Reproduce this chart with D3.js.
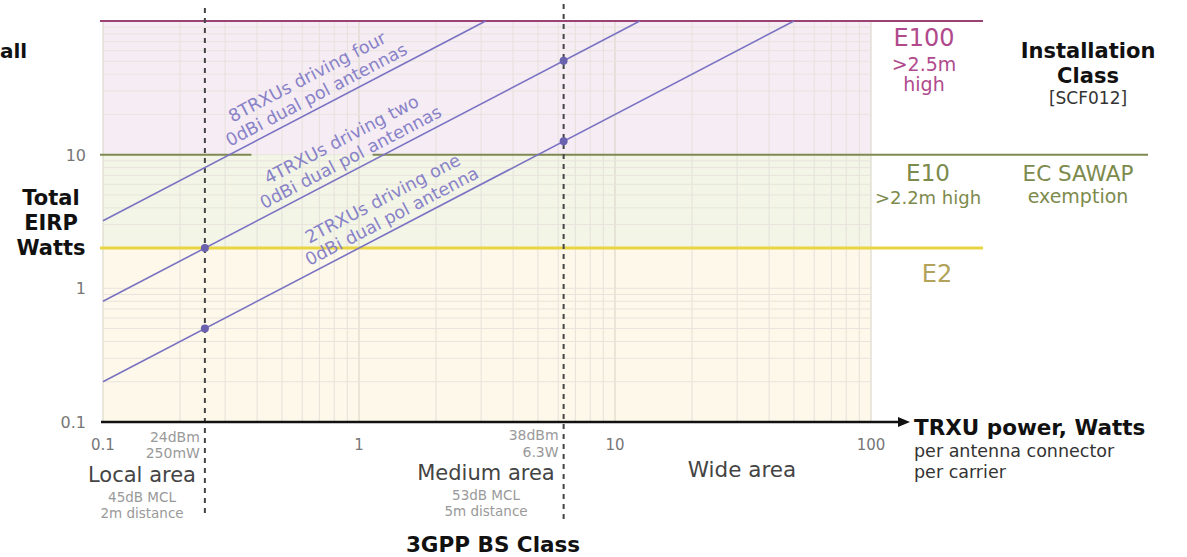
<!DOCTYPE html>
<html>
<head>
<meta charset="utf-8">
<script src="https://cdn.jsdelivr.net/npm/d3@7"></script>
<style>
  body { margin: 0; background: #fff; }
  svg text { font-family: "DejaVu Sans", Verdana, sans-serif; }
</style>
</head>
<body>
<div id="chart"></div>
<script>
// data
var xTickValues = [0.1, 1, 10, 100];
var yTickValues = [0.1, 1, 10];
var classNames = ["E100", "E10", "E2"];
var classLimits = [100, 10, 2];          // Total EIRP, Watts
var eirpFactors = [32, 8, 2];            // EIRP = factor * TRXU power
var lineLabels = [
  ["8TRXUs driving four", "0dBi dual pol antennas"],
  ["4TRXUs driving two", "0dBi dual pol antennas"],
  ["2TRXUs driving one", "0dBi dual pol antenna"]
];
var labelPower = [0.72, 0.98, 1.42];     // where each label sits along its line
var bsPower = [0.25, 6.3];               // 24dBm and 38dBm
var dotFactors = [8, 2];
var e10Gap = [0.38, 1.13];               // the E10 line is broken behind the labels

var width = 1187, height = 557;

var svg = d3.select("#chart").append("svg")
  .attr("width", width)
  .attr("height", height);

// log scales, one decade is ~256px across and ~133px up
var xScale = d3.scaleLog().domain([0.1, 100]).range([103, 871]);
var yScale = d3.scaleLog().domain([0.1, 100]).range([422, 21]);

// coloured bands behind the grid
var bandColors = ["#f6ecf4", "#f3f5e7", "#fdf8e9"];
var bandEdges = classLimits.concat([0.1]);
classNames.forEach(function(name, i) {
  svg.append("rect")
    .attr("x", xScale(0.1))
    .attr("y", yScale(bandEdges[i]))
    .attr("width", xScale(100) - xScale(0.1))
    .attr("height", yScale(bandEdges[i + 1]) - yScale(bandEdges[i]))
    .attr("fill", bandColors[i]);
});

// log grid
var gridVals = [];
[0.1, 1, 10].forEach(function(dec) {
  for (var k = 1; k <= 9; k++) gridVals.push(dec * k);
});
gridVals.push(100);

svg.append("g").selectAll("line")
  .data(gridVals)
  .enter().append("line")
  .attr("x1", function(d) { return xScale(d); })
  .attr("x2", function(d) { return xScale(d); })
  .attr("y1", yScale(100))
  .attr("y2", yScale(0.1))
  .attr("stroke", function(d) { return xTickValues.indexOf(d) >= 0 ? "#d6d3c4" : "#e5e1da"; })
  .attr("stroke-width", 1);

svg.append("g").selectAll("line")
  .data(gridVals)
  .enter().append("line")
  .attr("x1", xScale(0.1))
  .attr("x2", xScale(100))
  .attr("y1", function(d) { return yScale(d); })
  .attr("y2", function(d) { return yScale(d); })
  .attr("stroke", "#e8e4dd")
  .attr("stroke-width", 1);

// installation class limits
var classColors = ["#9a4276", "#7e8a52", "#e9d544"];
var classEnds = [983, 1148, 983];
classLimits.forEach(function(v, i) {
  var segs = [[xScale(0.1) - 3, classEnds[i]]];
  if (i == 1) segs = [[xScale(0.1) - 3, xScale(e10Gap[0])], [xScale(e10Gap[1]), classEnds[i]]];
  segs.forEach(function(s) {
    svg.append("line")
      .attr("x1", s[0])
      .attr("x2", s[1])
      .attr("y1", yScale(v))
      .attr("y2", yScale(v))
      .attr("stroke", classColors[i])
      .attr("stroke-width", i == 2 ? 3 : 2);
  });
});

// BS class dashed verticals
var dashTop = [8, 4], dashBottom = [515, 520];
bsPower.forEach(function(p, i) {
  svg.append("line")
    .attr("x1", xScale(p))
    .attr("x2", xScale(p))
    .attr("y1", dashTop[i])
    .attr("y2", dashBottom[i])
    .attr("stroke", "#444")
    .attr("stroke-width", 2)
    .attr("stroke-dasharray", "5,5");
});

// EIRP lines, clipped at the E100 limit
var lineColor = "#7a72c2";
eirpFactors.forEach(function(f, i) {
  var pts = [0.1, 100 / f];
  svg.append("line")
    .attr("x1", xScale(pts[0]))
    .attr("y1", yScale(pts[0] * f))
    .attr("x2", xScale(pts[1]))
    .attr("y2", yScale(pts[1] * f))
    .attr("stroke", lineColor)
    .attr("stroke-width", 1.6);

  // angle of the line in screen space
  var dx = xScale(1) - xScale(0.1);
  var dy = yScale(f) - yScale(f * 0.1);
  var angle = Math.atan2(dy, dx) * 180 / Math.PI;
  var p = labelPower[i];
  var g = svg.append("g")
    .attr("transform", "translate(" + xScale(p) + "," + yScale(p * f) + ") rotate(" + angle + ")");
  lineLabels[i].forEach(function(t, j) {
    g.append("text")
      .attr("x", 0)
      .attr("y", j == 0 ? -27 : -7)
      .attr("text-anchor", "middle")
      .attr("font-size", "17.5px")
      .attr("fill", "#8882c8")
      .text(t);
  });
});

// dots where the BS classes meet the lines
bsPower.forEach(function(p) {
  dotFactors.forEach(function(f) {
    svg.append("circle")
      .attr("cx", xScale(p))
      .attr("cy", yScale(p * f))
      .attr("r", 4)
      .attr("fill", "#6a62ae");
  });
});

// x axis with arrow
svg.append("line")
  .attr("x1", xScale(0.1) - 2)
  .attr("x2", 902)
  .attr("y1", yScale(0.1))
  .attr("y2", yScale(0.1))
  .attr("stroke", "#111")
  .attr("stroke-width", 2.5);
svg.append("path")
  .attr("d", "M" + 898 + "," + (yScale(0.1) - 5) + " L910," + yScale(0.1) + " L898," + (yScale(0.1) + 5) + " Z")
  .attr("fill", "#111");

// tick labels
svg.append("g").selectAll("text")
  .data(xTickValues)
  .enter().append("text")
  .attr("x", function(d) { return xScale(d); })
  .attr("y", 450)
  .attr("text-anchor", "middle")
  .attr("font-size", "15px")
  .attr("fill", "#777")
  .text(function(d) { return d; });

svg.append("g").selectAll("text")
  .data(yTickValues)
  .enter().append("text")
  .attr("x", 86)
  .attr("y", function(d) { return yScale(d) + 6; })
  .attr("text-anchor", "end")
  .attr("font-size", "16px")
  .attr("fill", "#777")
  .text(function(d) { return d; });

// helper for stacks of text
function textBlock(x, y, lines, opts) {
  lines.forEach(function(l) {
    svg.append("text")
      .attr("x", x)
      .attr("y", y + l[0])
      .attr("text-anchor", opts.anchor || "middle")
      .attr("font-size", l[2])
      .attr("font-weight", l[3] || "normal")
      .attr("fill", l[4] || opts.color)
      .text(l[1]);
  });
}

// y axis title
textBlock(51, 0, [
  [205, "Total", "21px", "bold"],
  [230, "EIRP", "21px", "bold"],
  [255, "Watts", "21px", "bold"]
], {color: "#111"});
// word cut at the left edge in the original
textBlock(0, 0, [[58, "all", "20px", "bold"]], {color: "#111", anchor: "start"});

// class labels on the right
textBlock(924, 0, [
  [46, "E100", "24px"],
  [71, ">2.5m", "19px"],
  [91, "high", "19px"]
], {color: "#b04a8c"});
textBlock(1088, 0, [
  [58, "Installation", "21px", "bold", "#111"],
  [83, "Class", "21px", "bold", "#111"],
  [104, "[SCF012]", "17px", "normal", "#333"]
], {color: "#111"});
textBlock(928, 0, [
  [181, "E10", "23px"],
  [204, ">2.2m high", "18px"]
], {color: "#7c8a4c"});
textBlock(1078, 0, [
  [181, "EC SAWAP", "21.5px"],
  [203, "exemption", "19px"]
], {color: "#7c8a4c"});
textBlock(937, 0, [[282, "E2", "24px"]], {color: "#b3a25a"});

// x axis title
textBlock(914, 0, [
  [435, "TRXU power, Watts", "21.5px", "bold", "#111"],
  [457, "per antenna connector", "17.5px", "normal", "#333"],
  [478, "per carrier", "17.5px", "normal", "#333"]
], {color: "#111", anchor: "start"});

// BS class notes
textBlock(xScale(bsPower[0]) - 5, 0, [
  [442, "24dBm", "14px"],
  [458, "250mW", "14px"]
], {color: "#999", anchor: "end"});
textBlock(xScale(bsPower[1]) - 5, 0, [
  [440, "38dBm", "14px"],
  [457, "6.3W", "14px"]
], {color: "#999", anchor: "end"});

textBlock(142, 0, [
  [482, "Local area", "21px", "normal", "#444"],
  [502, "45dB MCL", "13.5px"],
  [518, "2m distance", "13.5px"]
], {color: "#999"});
textBlock(486, 0, [
  [480, "Medium area", "21px", "normal", "#444"],
  [500, "53dB MCL", "13.5px"],
  [516, "5m distance", "13.5px"]
], {color: "#999"});
textBlock(742, 0, [[477, "Wide area", "21.5px", "normal", "#444"]], {color: "#444"});
textBlock(493, 0, [[552, "3GPP BS Class", "21.5px", "bold", "#111"]], {color: "#111"});
</script>
</body>
</html>
